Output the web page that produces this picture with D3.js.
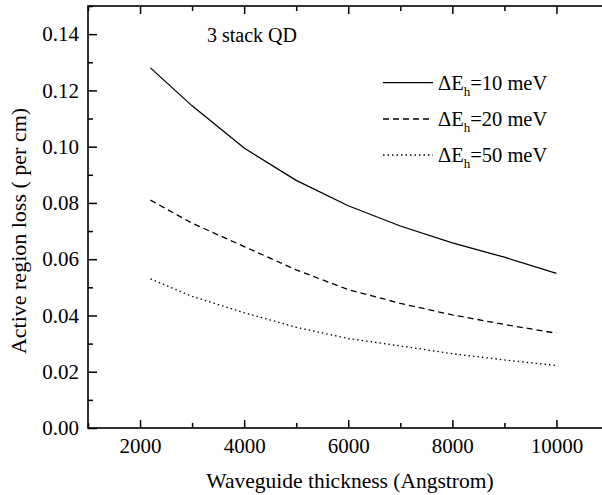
<!DOCTYPE html>
<html><head><meta charset="utf-8">
<script src="https://cdn.jsdelivr.net/npm/d3@7"></script>
<style>body{margin:0;background:#fff}svg{display:block}text{font-family:"Liberation Serif","Times New Roman",serif;fill:#000}</style>
</head><body><svg id="c" width="602" height="495"></svg>
<script>
const thickness = [2200, 3000, 4000, 5000, 6000, 7000, 8000, 9000, 10000];
const loss10 = [0.128, 0.1145, 0.0995, 0.088, 0.079, 0.0718, 0.0658, 0.0607, 0.055];
const loss20 = [0.081, 0.0728, 0.0645, 0.0562, 0.0492, 0.0443, 0.0402, 0.0368, 0.0337];
const loss50 = [0.053, 0.0468, 0.041, 0.0358, 0.0318, 0.0292, 0.0264, 0.0242, 0.0222];
const seriesNames = ["10", "20", "50"];
const xTicks = [2000, 4000, 6000, 8000, 10000];
const yTicks = [0, 0.02, 0.04, 0.06, 0.08, 0.10, 0.12, 0.14];

const FONT = '"Liberation Serif","Times New Roman",serif';
const svg = d3.select("#c");
const L = 88, R = 608.5, T = 6, B = 428;
const x = d3.scaleLinear().domain([1000, 11000]).range([L, R]);
const y = d3.scaleLinear().domain([0, 0.15]).range([B, T]);

const g = svg.append("g");
g.append("rect").attr("x", L).attr("y", T).attr("width", R - L).attr("height", B - T)
  .attr("fill", "none").attr("stroke", "#000").attr("stroke-width", 1.6);

const minorX = d3.range(1000, 11001, 1000);
const minorY = d3.range(0, 0.1501, 0.01);
const bx = g.append("g").attr("transform", `translate(0,${B})`)
  .call(d3.axisBottom(x).tickValues(xTicks).tickSize(-8).tickPadding(10).tickFormat(d3.format("d")));
const bxm = g.append("g").attr("transform", `translate(0,${B})`)
  .call(d3.axisBottom(x).tickValues(minorX.filter(v => !xTicks.includes(v))).tickSize(-5).tickFormat(""));
const tx = g.append("g").attr("transform", `translate(0,${T})`)
  .call(d3.axisTop(x).tickValues(xTicks).tickSize(-8).tickFormat(""));
const txm = g.append("g").attr("transform", `translate(0,${T})`)
  .call(d3.axisTop(x).tickValues(minorX.filter(v => !xTicks.includes(v))).tickSize(-5).tickFormat(""));
const ly = g.append("g").attr("transform", `translate(${L},0)`)
  .call(d3.axisLeft(y).tickValues(yTicks).tickSize(-9).tickPadding(9).tickFormat(d3.format(".2f")));
const lym = g.append("g").attr("transform", `translate(${L},0)`)
  .call(d3.axisLeft(y).tickValues(minorY.filter(v => !yTicks.some(t => Math.abs(t - v) < 1e-6))).tickSize(-5).tickFormat(""));
[bx, bxm, tx, txm, ly, lym].forEach(a => {
  a.attr("font-family", FONT).attr("font-size", 21);
  a.select(".domain").remove();
  a.selectAll(".tick line").attr("stroke", "#000").attr("stroke-width", 1.5);
  a.selectAll("text").attr("fill", "#000");
});
bx.selectAll(".tick text").attr("y", 0).attr("dy", 0).attr("transform", "translate(0,25)");

svg.append("text").attr("x", 350).attr("y", 488).attr("text-anchor", "middle")
  .attr("font-family", FONT).attr("font-size", 21.5).text("Waveguide thickness (Angstrom)");
svg.append("text").attr("transform", `translate(26,231) rotate(-90)`).attr("text-anchor", "middle")
  .attr("font-family", FONT).attr("font-size", 22).text("Active region loss ( per cm)");

const series = [loss10, loss20, loss50];
const dashes = [null, "6,4", "1.5,3"];
const line = d3.line().x((d, i) => x(thickness[i])).y(d => y(d));
series.forEach((s, k) => {
  svg.append("path").datum(s).attr("d", line).attr("fill", "none").attr("stroke", "#000")
    .attr("stroke-width", 1.3).attr("stroke-dasharray", dashes[k]);
});

svg.append("text").attr("x", 207).attr("y", 42).attr("font-family", FONT).attr("font-size", 20).text("3 stack QD");

const legY = [82.7, 119, 155];
seriesNames.forEach((n, k) => {
  svg.append("line").attr("x1", 383).attr("x2", 433).attr("y1", legY[k]).attr("y2", legY[k])
    .attr("stroke", "#000").attr("stroke-width", 1.3).attr("stroke-dasharray", dashes[k]);
  const t = svg.append("text").attr("x", 438).attr("y", legY[k] + 7).attr("font-family", FONT).attr("font-size", 20.5);
  t.append("tspan").text("ΔE");
  t.append("tspan").attr("dy", 6).attr("font-size", 13).text("h");
  t.append("tspan").attr("dy", -6).text(`=${n} meV`);
});
</script></body></html>
